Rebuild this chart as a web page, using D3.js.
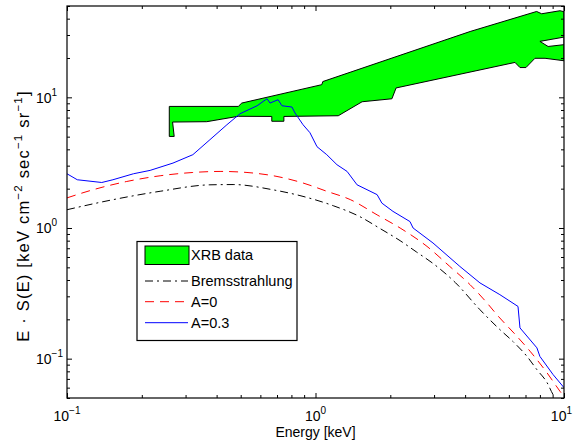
<!DOCTYPE html>
<html>
<head>
<meta charset="utf-8">
<script src="https://d3js.org/d3.v7.min.js"></script>
<style>
body{margin:0;background:#fff;}
svg{display:block;font-family:"Liberation Sans",Arial,Helvetica,sans-serif;}
</style>
</head>
<body>
<svg id="chart" width="573" height="443"></svg>
<script>
// Bremsstrahlung (black dash-dot)
const bremE = [0.1, 0.149, 0.237, 0.376, 0.466, 0.675, 0.866, 1.18, 1.51, 1.82, 2.19, 2.55, 2.98, 3.66, 4.59, 5.52, 6.24, 7.10, 7.78, 8.55, 9.04, 10];
const bremV = [1.38, 1.63, 1.91, 2.14, 2.15, 1.96, 1.77, 1.48, 1.22, 0.99, 0.80, 0.655, 0.533, 0.381, 0.237, 0.167, 0.135, 0.104, 0.0824, 0.0655, 0.053, 0.043];

// A=0 (red dashed)
const a0E = [0.1, 0.127, 0.174, 0.237, 0.321, 0.413, 0.530, 0.700, 0.891, 1.11, 1.38, 1.77, 2.19, 2.81, 3.47, 4.19, 4.90, 5.37, 6.47, 7.30, 8.55, 9.64, 10];
const a0V = [1.70, 1.96, 2.27, 2.51, 2.66, 2.71, 2.66, 2.48, 2.21, 1.91, 1.65, 1.26, 1.0, 0.723, 0.508, 0.368, 0.267, 0.217, 0.148, 0.114, 0.0778, 0.0562, 0.0512];

// A=0.3 (blue solid)
const a3E = [0.1, 0.110, 0.138, 0.153, 0.185, 0.216, 0.267, 0.321, 0.376, 0.440, 0.497, 0.582, 0.638, 0.656, 0.707, 0.733, 0.804, 0.827, 0.891, 0.950, 1.014, 1.11, 1.22, 1.34, 1.47, 1.77, 1.85, 2.05, 2.40, 2.47, 2.97, 3.81, 4.59, 5.52, 6.53, 6.65, 7.78, 8.0, 9.04, 10];
const a3V = [2.60, 2.34, 2.23, 2.34, 2.60, 2.76, 3.14, 3.64, 4.74, 6.17, 7.49, 8.62, 9.76, 9.04, 9.59, 8.62, 8.43, 7.59, 6.17, 5.36, 4.19, 3.64, 3.05, 2.71, 2.14, 1.80, 1.55, 1.34, 1.12, 1.0, 0.768, 0.508, 0.380, 0.309, 0.251, 0.172, 0.121, 0.104, 0.0755, 0.060];

// XRB data band outline
const xrbE = [0.258, 0.489, 0.505, 1.06, 1.07, 4.19, 7.76, 8.13, 9.64, 10, 10, 8.39, 7.64, 7.03, 6.65, 6.35, 2.11, 2.03, 1.54, 1.235, 0.746, 0.746, 0.667, 0.667, 0.489, 0.365, 0.266, 0.270, 0.258];
const xrbV = [8.52, 8.52, 9.04, 12.5, 13.2, 31.9, 45.4, 43.6, 46.0, 45.2, 19.05, 19.9, 19.9, 16.9, 16.9, 18.5, 11.8, 9.75, 9.25, 7.23, 7.14, 6.56, 6.56, 7.14, 7.16, 6.51, 6.47, 5.02, 5.02];
// gap between the two high-energy data sets
const gapE = [8.0, 10, 10, 8.63];
const gapV = [26.8, 28.9, 25.3, 24.5];

const tickVals = [0.1, 1, 10];
const tickExp = ["\u22121", "0", "1"];

const svg = d3.select("#chart"),
margin = {top:6,right:9,bottom:45,left:67},
width = +svg.attr("width") - margin.left - margin.right,
height = +svg.attr("height") - margin.top - margin.bottom;

const g = svg.append("g")
.attr("transform",`translate(${margin.left},${margin.top})`);

const x = d3.scaleLog().domain([0.1,10]).range([0,width]);
const y = d3.scaleLog().domain([0.05,50]).range([height,0]);

g.append("defs").append("clipPath").attr("id","clip")
.append("rect").attr("width",width).attr("height",height);

const plot = g.append("g").attr("clip-path","url(#clip)");

const poly = d3.line().x(d=>x(d[0])).y(d=>y(d[1])).curve(d3.curveLinearClosed);

plot.append("path")
.datum(d3.zip(xrbE,xrbV))
.attr("d",poly)
.attr("fill","#00ff00")
.attr("stroke","#000")
.attr("stroke-width",1);

plot.append("path")
.datum(d3.zip(gapE,gapV))
.attr("d",poly)
.attr("fill","#fff")
.attr("stroke","#000")
.attr("stroke-width",1);

const smooth = d3.line().x(d=>x(d[0])).y(d=>y(d[1])).curve(d3.curveMonotoneX);
const jagged = d3.line().x(d=>x(d[0])).y(d=>y(d[1]));

plot.append("path")
.datum(d3.zip(bremE,bremV))
.attr("d",smooth)
.attr("fill","none").attr("stroke","#000").attr("stroke-width",1)
.attr("stroke-dasharray","8,4,2,4");

plot.append("path")
.datum(d3.zip(a0E,a0V))
.attr("d",smooth)
.attr("fill","none").attr("stroke","#ff0000").attr("stroke-width",1)
.attr("stroke-dasharray","9,6");

plot.append("path")
.datum(d3.zip(a3E,a3V))
.attr("d",jagged)
.attr("fill","none").attr("stroke","#0000ff").attr("stroke-width",1);

// ticks, all pointing inwards
const isMajor = v => Math.abs(Math.log10(v) - Math.round(Math.log10(v))) < 1e-6;
const minorX = x.ticks().filter(v=>!isMajor(v));
const minorY = y.ticks().filter(v=>!isMajor(v));

function addTicks(axisFn, scale, vals, size, tr){
    g.append("g").attr("transform",tr)
    .call(axisFn(scale).tickValues(vals).tickSizeInner(size).tickSizeOuter(0).tickFormat(""))
    .call(a=>a.select(".domain").remove())
    .call(a=>a.selectAll("line").attr("stroke","#000"));
}
addTicks(d3.axisBottom, x, tickVals, -5, `translate(0,${height})`);
addTicks(d3.axisBottom, x, minorX, -3, `translate(0,${height})`);
addTicks(d3.axisTop, x, tickVals, -5, "translate(0,0)");
addTicks(d3.axisTop, x, minorX, -3, "translate(0,0)");
addTicks(d3.axisLeft, y, tickVals, -5, "translate(0,0)");
addTicks(d3.axisLeft, y, minorY, -3, "translate(0,0)");
addTicks(d3.axisRight, y, tickVals, -5, `translate(${width},0)`);
addTicks(d3.axisRight, y, minorY, -3, `translate(${width},0)`);

g.append("rect")
.attr("width",width).attr("height",height)
.attr("fill","none").attr("stroke","#000").attr("stroke-width",1.2);

// tick labels 10^n
tickVals.forEach((v,i)=>{
    const last = i===tickVals.length-1;
    const tx = g.append("text")
    .attr("x",last ? x(v)+8 : x(v)).attr("y",height+23)
    .attr("text-anchor",last ? "end" : "middle").attr("font-size",14);
    tx.append("tspan").text("10");
    tx.append("tspan").attr("dy",-7).attr("font-size",10).text(tickExp[i]);

    const ty = g.append("text")
    .attr("x",-31).attr("y",y(v)+5.2)
    .attr("font-size",14);
    ty.append("tspan").text("10");
    ty.append("tspan").attr("dy",-7).attr("font-size",10).text(tickExp[i]);
});

g.append("text")
.attr("x",width/2).attr("y",height+38.7)
.attr("text-anchor","middle").attr("font-size",14)
.text("Energy [keV]");

const yl = g.append("text")
.attr("transform",`translate(-38,210) rotate(-90)`)
.attr("text-anchor","middle").attr("font-size",16.5)
.attr("letter-spacing",1.2);
[["E \u00b7 S(E) [keV cm",0],["\u22122",1],[" sec",0],["\u22121",1],[" sr",0],["\u22121",1],["]",0]]
.forEach((p,i,arr)=>{
    const prevSup = i>0 && arr[i-1][1];
    const dy = p[1] ? -7 : (prevSup ? 7 : 0);
    yl.append("tspan").attr("dy",dy).attr("font-size",p[1]?11.5:16.5).text(p[0]);
});

// Legend
const legend = svg.append("g").attr("transform","translate(137,241.5)");
legend.append("rect")
.attr("width",160).attr("height",99)
.attr("fill","#fff").attr("stroke","#000").attr("stroke-width",1.2);

const items = [
 {type:"patch", text:"XRB data", y:13.5},
 {type:"line", color:"#000", dash:"8,4,2,4", text:"Bremsstrahlung", y:39.5},
 {type:"line", color:"#ff0000", dash:"9,6", text:"A=0", y:60.2},
 {type:"line", color:"#0000ff", dash:null, text:"A=0.3", y:81.2}
];

items.forEach(item=>{
    if(item.type==="patch"){
        legend.append("rect")
        .attr("x",8).attr("y",item.y-9)
        .attr("width",44).attr("height",18.5)
        .attr("fill","#00ff00").attr("stroke","#000");
    } else {
        legend.append("line")
        .attr("x1",8).attr("x2",51)
        .attr("y1",item.y).attr("y2",item.y)
        .attr("stroke",item.color).attr("stroke-width",1)
        .attr("stroke-dasharray",item.dash);
    }
    legend.append("text")
    .attr("x",54).attr("y",item.y+4.8)
    .attr("font-size",14.5)
    .text(item.text);
});
</script>
</body>
</html>
